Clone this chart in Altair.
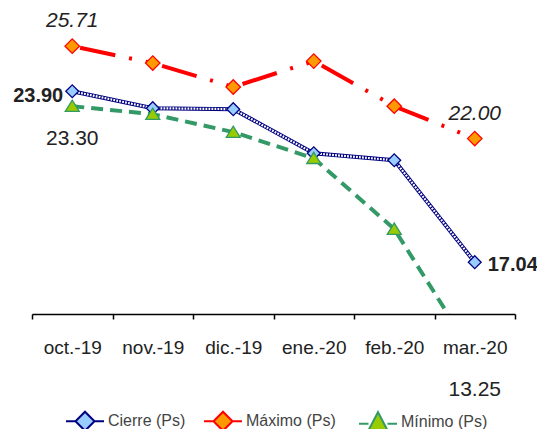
import altair as alt
import pandas as pd

months = ["oct.-19", "nov.-19", "dic.-19", "ene.-20", "feb.-20", "mar.-20"]
cierre = [23.90, 23.22, 23.18, 21.41, 21.13, 17.04]
maximo = [25.71, 25.03, 24.07, 25.11, 23.30, 22.00]
minimo = [23.30, 22.98, 22.26, 21.21, 18.37, 13.25]
series = ["Cierre (Ps)", "Máximo  (Ps)", "Mínimo  (Ps)"]

rows = []
for s, vals in zip(series, [cierre, maximo, minimo]):
    for m, v in zip(months, vals):
        rows.append({"mes": m, "valor": v, "serie": s})
df = pd.DataFrame(rows)

FONT = "Liberation Sans"
NAVY, LBLUE = "#000080", "#99CCFF"
RED, ORANGE = "#FF0000", "#FF9900"
GREEN, YGREEN = "#339966", "#99CC00"

x = alt.X(
    "mes:N",
    sort=months,
    scale=alt.Scale(type="band", domain=months, paddingInner=0, paddingOuter=0),
    axis=alt.Axis(
        title=None, labelAngle=0, domainColor="black", domainWidth=1.5,
        tickColor="black", tickWidth=1.5, tickSize=5, tickBand="extent",
        labelFontSize=19, labelFont=FONT, labelColor="#222", labelPadding=19,
        grid=False, labelOverlap=False,
    ),
)
y = alt.Y("valor:Q", scale=alt.Scale(domain=[14.96, 27], nice=False, zero=False), axis=None)

base = alt.Chart(df).encode(x=x, y=y)


def sub(s):
    return base.transform_filter(alt.datum.serie == s)


def at(s, i):
    return sub(s).transform_filter(alt.datum.mes == months[i]).encode(
        text=alt.Text("valor:Q", format=".2f")
    )


min_line = sub(series[2]).mark_line(color=GREEN, strokeWidth=4, strokeDash=[12, 7], clip=True)
max_line = sub(series[1]).mark_line(
    color=RED, strokeWidth=4, strokeDash=[36, 14, 3, 14, 3, 14], strokeDashOffset=76
)
cie_line1 = sub(series[0]).mark_line(color=NAVY, strokeWidth=4)
cie_line2 = sub(series[0]).mark_line(color="white", strokeWidth=2.2, strokeDash=[1.8, 1.2])

tri = "M-1,0.75L0,-0.85L1,0.75Z"
cie_pts = sub(series[0]).mark_point(
    shape="diamond", size=165, filled=True, fill=LBLUE, stroke=NAVY, strokeWidth=1.3, opacity=1
)
max_pts = sub(series[1]).mark_point(
    shape="diamond", size=210, filled=True, fill=ORANGE, stroke=RED, strokeWidth=1.3, opacity=1
)
min_pts = sub(series[2]).mark_point(
    shape=tri, size=196, filled=True, fill=YGREEN, stroke=GREEN, strokeWidth=1.3, opacity=1, clip=True
)

txt = dict(font=FONT, color="#222", baseline="middle")
lab_max0 = at(series[1], 0).mark_text(fontStyle="italic", fontSize=21, dy=-25, **txt)
lab_max5 = at(series[1], 5).mark_text(fontStyle="italic", fontSize=21, dy=-25, **txt)
lab_cie0 = at(series[0], 0).mark_text(fontWeight="bold", fontSize=20, align="right", dx=-9, dy=5, **txt)
lab_cie5 = at(series[0], 5).mark_text(fontWeight="bold", fontSize=20, align="left", dx=13, dy=3, **txt)
lab_min0 = at(series[2], 0).mark_text(fontSize=21, dy=33, **txt)
lab_min5 = at(series[2], 5).mark_text(fontSize=21, dy=33, **txt)

line_dia = "M-1,0L-0.5,0M0.5,0L1,0M0,-0.5L0.5,0L0,0.5L-0.5,0Z"
line_tri = "M-1,0.1L-0.5,0.1M0.5,0.1L1,0.1M-0.5,0.45L0,-0.5L0.5,0.45Z"
leg = alt.Legend(
    title=None, orient="none", legendX=33, legendY=387, direction="horizontal",
    labelFont=FONT, labelFontSize=16, labelColor="#444", symbolSize=1444,
    symbolStrokeWidth=2, labelOffset=3, columnPadding=14, padding=0, gridAlign="each",
)
legend_layer = alt.Chart(df).transform_filter("false").mark_point(filled=True, opacity=1).encode(
    x=x, y=y,
    shape=alt.Shape("serie:N", scale=alt.Scale(domain=series, range=[line_dia, line_dia, line_tri]), legend=leg),
    fill=alt.Fill("serie:N", scale=alt.Scale(domain=series, range=[LBLUE, ORANGE, YGREEN]), legend=leg),
    stroke=alt.Stroke("serie:N", scale=alt.Scale(domain=series, range=[NAVY, RED, GREEN]), legend=leg),
)

chart = alt.layer(
    min_line, max_line, cie_line1, cie_line2,
    cie_pts, max_pts, min_pts,
    lab_max0, lab_max5, lab_cie0, lab_cie5, lab_min0, lab_min5,
    legend_layer,
).properties(
    width=483, height=300,
    autosize=alt.AutoSizeParams(type="none"),
    padding={"left": 24, "top": 6, "right": 22, "bottom": 115},
    background="white",
).configure_view(stroke=None)

chart.save("out.html", embed_options={"renderer": "svg", "actions": False})
